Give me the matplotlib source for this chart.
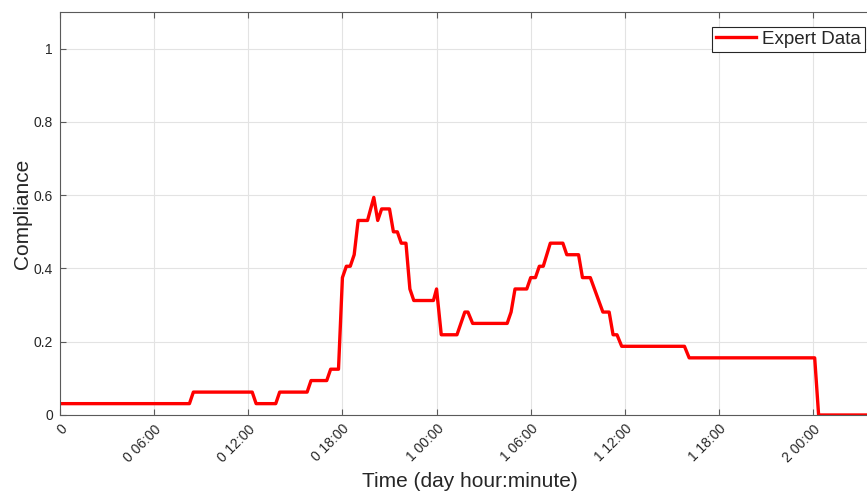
import matplotlib
matplotlib.use("Agg")
import matplotlib.pyplot as plt
import numpy as np

plt.rcParams['font.family'] = ['Liberation Sans', 'DejaVu Sans']

# Time in hours since start, compliance values
hours = [0.15, 8.25, 8.5, 12.25, 12.5, 13.75, 14.0, 15.75, 16.0, 17.0, 17.25, 17.75,
         18.0, 18.25, 18.5, 18.75, 19.0, 19.6, 20.0, 20.25, 20.5, 21.0, 21.25, 21.5,
         21.75, 22.05, 22.3, 22.55, 23.8, 24.0, 24.3, 25.3, 25.8, 26.0, 26.3, 28.5,
         28.75, 29.0, 29.75, 30.0, 30.3, 30.55, 30.8, 31.25, 32.05, 32.3, 33.05, 33.3,
         33.8, 34.6, 35.0, 35.25, 35.5, 35.8, 39.8, 40.1, 48.1, 48.35, 53.0]
compliance = [0.031, 0.031, 0.0625, 0.0625, 0.031, 0.031, 0.0625, 0.0625, 0.094, 0.094, 0.125, 0.125,
              0.375, 0.406, 0.406, 0.4375, 0.531, 0.531, 0.594, 0.531, 0.5625, 0.5625, 0.5, 0.5,
              0.469, 0.469, 0.344, 0.3125, 0.3125, 0.344, 0.219, 0.219, 0.281, 0.281, 0.25, 0.25,
              0.281, 0.344, 0.344, 0.375, 0.375, 0.406, 0.406, 0.469, 0.469, 0.4375, 0.4375, 0.375,
              0.375, 0.281, 0.281, 0.219, 0.219, 0.1875, 0.1875, 0.156, 0.156, 0.0, 0.0]

tick_hours = [0, 6, 12, 18, 24, 30, 36, 42, 48]
tick_labels = ['0', '0 06:00', '0 12:00', '0 18:00', '1 00:00', '1 06:00', '1 12:00', '1 18:00', '2 00:00']
y_ticks = [0, 0.2, 0.4, 0.6, 0.8, 1]
y_tick_labels = ['0', '0.2', '0.4', '0.6', '0.8', '1']

W, H = 867, 491
fig = plt.figure(figsize=(W / 100, H / 100), dpi=100)
left, right, top, bottom = 60, 880, 12, 415
ax = fig.add_axes([left / W, 1 - bottom / H, (right - left) / W, (bottom - top) / H])

ax.plot(hours, compliance, color='#ff0000', linewidth=2.4, label='Expert Data')

ax.set_xlim(0, (right - left) / 15.69)
ax.set_ylim(0, 1.1)
ax.set_xticks(tick_hours)
ax.set_xticklabels(tick_labels, rotation=45, ha='right', va='top', rotation_mode='anchor')
ax.set_yticks(y_ticks)
ax.set_yticklabels(y_tick_labels)

axcol = '#5a5a5a'
for s in ax.spines.values():
    s.set_color(axcol)
    s.set_linewidth(0.8)
ax.tick_params(axis='both', direction='in', length=4, width=0.8, color=axcol,
               labelcolor='#262626', labelsize=10, top=True, right=True)
ax.tick_params(axis='x', pad=5)
ax.tick_params(axis='y', pad=5)
ax.grid(True, color='#e3e3e3', linewidth=0.8)
ax.set_axisbelow(True)

ax.set_xlabel('Time (day hour:minute)', fontsize=15, color='#262626', labelpad=5)
ax.set_ylabel('Compliance', fontsize=15, color='#262626', labelpad=1.5)

leg = ax.legend(loc='upper right', bbox_to_anchor=(865 / W, 1 - 26.7 / H),
                bbox_transform=fig.transFigure, borderaxespad=0, fontsize=13.5,
                handlelength=2.15, handletextpad=0.3, borderpad=0.22, fancybox=False,
                framealpha=1, edgecolor='#262626')
leg.get_frame().set_linewidth(0.8)
for t in leg.get_texts():
    t.set_color('#262626')

fig.savefig('out.png', dpi=100)
